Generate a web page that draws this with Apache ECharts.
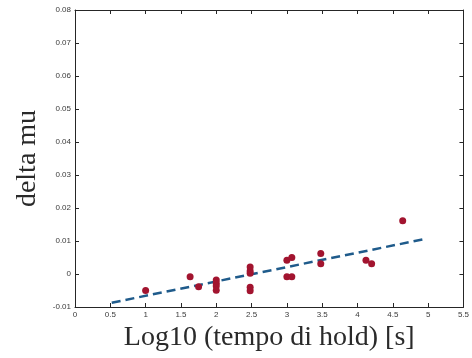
<!DOCTYPE html>
<html>
<head>
<meta charset="utf-8">
<script src="https://cdn.jsdelivr.net/npm/echarts@6/dist/echarts.min.js"></script>
<style>html,body{margin:0;padding:0;background:#fff;overflow:hidden}#c{width:472px;height:358px}</style>
</head>
<body>
<div id="c"></div>
<script>
// Measured points: log10(hold time) and delta mu
const logTime = [1.0, 1.63, 1.75, 2.0, 2.0, 2.0, 2.0, 2.48, 2.48, 2.48, 2.48, 2.48, 3.0, 3.07, 3.0, 3.07, 3.48, 3.48, 4.12, 4.2, 4.64];
const deltaMu = [-0.005, -0.0008, -0.0039, -0.0018, -0.0028, -0.0036, -0.0049, 0.0021, 0.0009, 0.0002, -0.0040, -0.0051, 0.0042, 0.0050, -0.0008, -0.0008, 0.0062, 0.0031, 0.0042, 0.0031, 0.0161];
// Linear fit line endpoints
const fitX = [0.52, 4.93];
const fitY = [-0.0087, 0.0105];
// Axis settings
const xTicks = {min: 0, max: 5.5, interval: 0.5};
const yTicks = {min: -0.01, max: 0.08, interval: 0.01};
const xTitle = 'Log10 (tempo di hold) [s]';
const yTitle = 'delta mu';

const chart = echarts.init(document.getElementById('c'), null, {renderer: 'canvas'});
const axisCol = '#262626';
const labelStyle = {color: '#3a3a3a', fontSize: 8, fontFamily: 'Liberation Sans, Arial, sans-serif'};
const titleStyle = {color: '#2a2a2a', fontSize: 28, fontFamily: 'Liberation Serif, DejaVu Serif, serif'};
const baseX = {type: 'value', min: xTicks.min, max: xTicks.max, interval: xTicks.interval,
  axisLine: {show: true, onZero: false, lineStyle: {color: axisCol, width: 1}},
  axisTick: {show: true, inside: true, length: 4, lineStyle: {color: axisCol}},
  splitLine: {show: false}};
const baseY = {type: 'value', min: yTicks.min, max: yTicks.max, interval: yTicks.interval,
  axisLine: {show: true, onZero: false, lineStyle: {color: axisCol, width: 1}},
  axisTick: {show: true, inside: true, length: 4, lineStyle: {color: axisCol}},
  splitLine: {show: false}};

chart.setOption({
  animation: false,
  backgroundColor: '#fff',
  grid: {left: 75, right: 4, top: 10, bottom: 51, containLabel: false},
  xAxis: [
    Object.assign({}, baseX, {position: 'bottom',
      axisLabel: Object.assign({margin: 4, formatter: v => String(+v.toFixed(1))}, labelStyle),
      name: xTitle, nameLocation: 'middle', nameGap: 17, nameTextStyle: titleStyle}),
    Object.assign({}, baseX, {position: 'top', axisLabel: {show: false}})
  ],
  yAxis: [
    Object.assign({}, baseY, {position: 'left',
      axisLabel: Object.assign({margin: 4, formatter: v => String(+v.toFixed(2))}, labelStyle),
      name: yTitle, nameLocation: 'middle', nameGap: 19, nameRotate: 90, nameTextStyle: titleStyle}),
    Object.assign({}, baseY, {position: 'right', axisLabel: {show: false}})
  ],
  series: [
    {type: 'line', xAxisIndex: 0, yAxisIndex: 0, symbol: 'none', silent: true,
      data: fitX.map((x, i) => [x, fitY[i]]),
      lineStyle: {color: '#1f5b8b', width: 2.5, type: [9, 5]}, z: 2},
    {type: 'scatter', xAxisIndex: 0, yAxisIndex: 0, symbol: 'circle', symbolSize: 7,
      data: logTime.map((x, i) => [x, deltaMu[i]]),
      itemStyle: {color: '#a2142f', opacity: 1}, z: 3}
  ]
});
</script>
</body>
</html>
